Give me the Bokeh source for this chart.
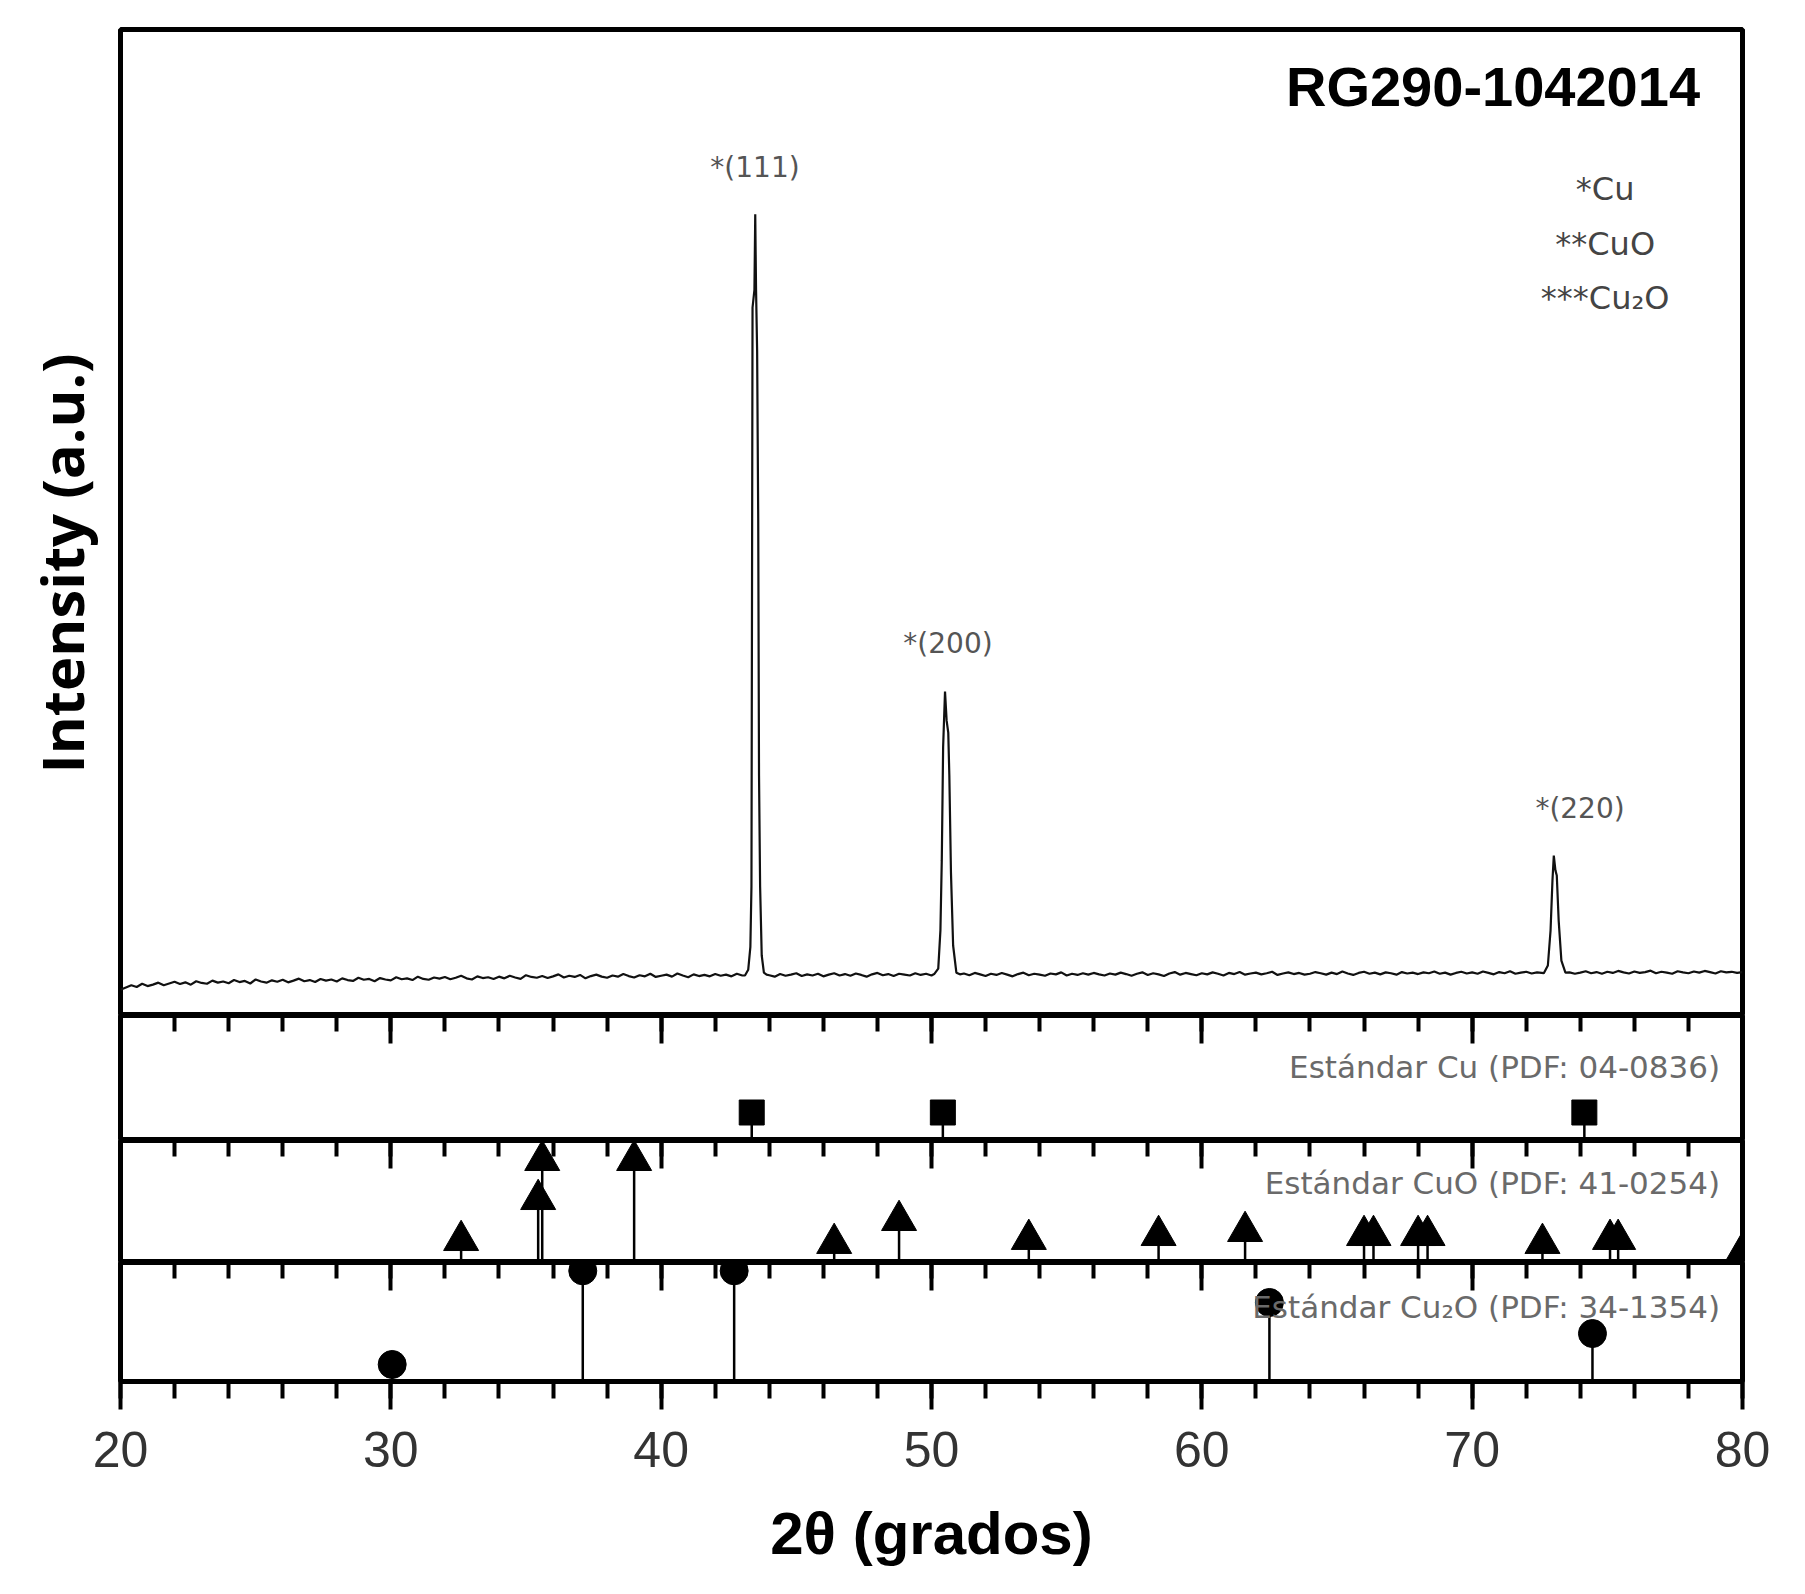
import numpy as np
from bokeh.plotting import figure
from bokeh.models import Range1d, Label, SingleIntervalTicker, LinearAxis, Title
from bokeh.layouts import column
from bokeh.embed import file_html
from bokeh.resources import INLINE

# ---------------- data ----------------
scan_start = 20.0
scan_step = 0.2
baseline_counts = [
    150, 158, 166, 160, 171, 163, 168, 175, 166, 172,
    178, 170, 176, 168, 180, 174, 171, 182, 175, 179,
    173, 184, 177, 181, 172, 186, 179, 175, 183, 178,
    185, 176, 182, 189, 180, 184, 177, 188, 182, 186,
    179, 190, 184, 181, 192, 185, 188, 180, 191, 186,
    183, 194, 187, 190, 184, 196, 188, 185, 193, 189,
    195, 187, 192, 199, 190, 186, 197, 191, 194, 188,
    196, 190, 199, 193, 188, 201, 195, 192, 198, 191,
    197, 204, 193, 199, 195, 202, 190, 198, 203, 196,
    192, 200, 196, 205, 198, 193, 201, 197, 206, 195,
    199, 203, 196, 207, 200, 194, 204, 198, 202, 197,
    205, 199, 203, 197, 206, 200, 204, 198, 202, 200,
    201, 196, 205, 199, 203, 208, 198, 204, 200, 206,
    197, 203, 208, 200, 205, 199, 207, 202, 196, 204,
    209, 201, 205, 198, 206, 203, 200, 208, 202, 206,
    200, 204, 210, 205, 199, 203, 207, 201, 209, 204,
    198, 206, 202, 209, 203, 197, 205, 210, 201, 206,
    203, 199, 207, 204, 211, 200, 206, 202, 208, 203,
    209, 204, 200, 207, 203, 210, 205, 199, 206, 211,
    202, 208, 204, 198, 207, 212, 203, 209, 205, 201,
    208, 204, 211, 206, 200, 209, 205, 212, 203, 207,
    210, 204, 208, 213, 202, 207, 211, 205, 209, 203,
    206, 212, 208, 203, 210, 205, 214, 207, 202, 209,
    213, 206, 210, 204, 211, 208, 203, 212, 207, 210,
    205, 211, 208, 214, 206, 210, 203, 209, 213, 207,
    211, 206, 214, 209, 204, 212, 208, 215, 206, 210,
    213, 207, 211, 205, 212, 209, 214, 208, 211, 206,
    210, 215, 208, 212, 206, 213, 209, 216, 211, 207,
    214, 209, 212, 217, 208, 213, 210, 206, 215, 211,
    208, 214, 210, 216, 212, 207, 215, 211, 213, 209,
    212,
]
peak111_2theta = [43.10, 43.22, 43.30, 43.34, 43.36, 43.38, 43.45, 43.48, 43.51, 43.55, 43.59, 43.62, 43.66, 43.72, 43.80, 43.90]
peak111_counts = [200, 220, 300, 512, 1512, 2538, 2600, 2864, 2600, 2384, 1800, 900, 512, 270, 210, 203]
peak200_2theta = [50.10, 50.25, 50.33, 50.38, 50.43, 50.50, 50.56, 50.62, 50.66, 50.72, 50.80, 50.92, 51.05]
peak200_counts = [205, 224, 358, 602, 1000, 1194, 1092, 1050, 900, 560, 305, 210, 204]
peak220_2theta = [72.65, 72.80, 72.90, 72.97, 73.02, 73.08, 73.13, 73.20, 73.30, 73.45]
peak220_counts = [208, 235, 358, 532, 620, 568, 550, 392, 252, 210]
peak_windows = [(43.05, 43.95), (50.05, 51.10), (72.60, 73.50)]

peak_labels = ["*(111)", "*(200)", "*(220)"]
peak_label_2theta = [43.47, 50.61, 73.99]
peak_label_counts = [3028, 1362, 785]

phase_legend = ["*Cu", "**CuO", "***Cu\u2082O"]
phase_legend_counts = [2954, 2762, 2573]

sample_name = "RG290-1042014"
y_title = "Intensity (a.u.)"
x_title = "2\u03b8 (grados)"

cu_2theta = [43.35, 50.42, 74.15]
cu_height = [22.4, 22.4, 22.4]
cuo_2theta = [32.6, 35.45, 35.6, 39.0, 46.4, 48.8, 53.6, 58.4, 61.6, 66.0, 66.35, 68.0, 68.35, 72.6, 75.1, 75.4, 79.95]
cuo_height = [18.1, 51.7, 83.7, 83.7, 15.7, 34.5, 19.0, 22.2, 25.5, 22.2, 22.2, 22.2, 22.2, 15.7, 19.0, 19.0, 6.7]
cu2o_2theta = [30.05, 37.1, 42.7, 62.5, 74.45]
cu2o_height = [14.3, 93.0, 93.0, 66.4, 40.3]

standard_labels = ["Est\u00e1ndar Cu (PDF: 04-0836)", "Est\u00e1ndar CuO (PDF: 41-0254)", "Est\u00e1ndar Cu\u2082O (PDF: 34-1354)"]
standard_label_height = [59.2, 64.8, 62.2]

x_ticks_major = 10
x_minor_per_major = 5

# ------------- build scan -------------
pts = []
for i, c in enumerate(baseline_counts):
    xv = scan_start + i * scan_step
    if any(a <= xv <= b for a, b in peak_windows):
        continue
    pts.append((xv, c))
for xs, ys in [(peak111_2theta, peak111_counts), (peak200_2theta, peak200_counts), (peak220_2theta, peak220_counts)]:
    pts.extend(zip(xs, ys))
pts.sort()
scan_x = [p[0] for p in pts]
scan_y = [p[1] for p in pts]

# ------------- layout -------------
W = 1789
LEFT = 120
RIGHT = 47


def make_fig(height, y0, y1, top=0, bottom=0):
    p = figure(width=W, height=height, x_range=Range1d(20, 80), y_range=Range1d(y0, y1),
               output_backend="svg", toolbar_location=None,
               x_axis_location=None, y_axis_location=None,
               min_border_left=LEFT, min_border_right=RIGHT,
               min_border_top=top, min_border_bottom=bottom)
    p.outline_line_color = "black"
    p.outline_line_width = 5
    p.outline_line_alpha = 1.0
    p.grid.visible = False
    p.background_fill_color = "white"
    p.border_fill_color = "white"
    return p


def add_top_ticks(p):
    ax = LinearAxis(ticker=SingleIntervalTicker(interval=x_ticks_major, num_minor_ticks=x_minor_per_major))
    ax.major_tick_in = 28
    ax.major_tick_out = 0
    ax.minor_tick_in = 16
    ax.minor_tick_out = 0
    ax.major_tick_line_width = 4
    ax.minor_tick_line_width = 4
    ax.major_tick_line_color = "black"
    ax.minor_tick_line_color = "black"
    ax.axis_line_color = None
    ax.major_label_text_color = None
    ax.major_label_text_font_size = "1px"
    ax.major_label_standoff = 0
    p.add_layout(ax, "above")


LABEL_GREY = "#555555"
STD_GREY = "#6a6a6a"

# main panel
pa = make_fig(1015, 60, 3511, top=29)
pa.line(scan_x, scan_y, line_width=2.2, color="#111111")
for t, xv, yv in zip(peak_labels, peak_label_2theta, peak_label_counts):
    pa.add_layout(Label(x=xv, y=yv, text=t, text_align="center", text_baseline="middle",
                        text_font="DejaVu Sans", text_font_size="28px", text_color=LABEL_GREY))
for t, yv in zip(phase_legend, phase_legend_counts):
    pa.add_layout(Label(x=74.92, y=yv, text=t, text_align="center", text_baseline="middle",
                        text_font="DejaVu Sans", text_font_size="32px", text_color="#444444"))
pa.add_layout(Label(x=78.43, y=3311, text=sample_name, text_align="right", text_baseline="middle",
                    text_font="Liberation Sans", text_font_style="bold", text_font_size="56px",
                    text_color="black"))
pa.add_layout(Title(text=y_title, align="left", offset=242, vertical_align="middle", standoff=37,
                    text_font="Open Sans", text_font_style="bold", text_font_size="58px",
                    text_color="black"), "left")

# Cu standard
pb = make_fig(125, 0, 100)
add_top_ticks(pb)
pb.segment(cu_2theta, [0] * len(cu_2theta), cu_2theta, cu_height, line_width=2.5, color="black")
pb.scatter(cu_2theta, cu_height, marker="square", size=25, color="black")
pb.add_layout(Label(x=79.17, y=standard_label_height[0], text=standard_labels[0], text_align="right",
                    text_baseline="middle", text_font="DejaVu Sans", text_font_size="31px",
                    text_color=STD_GREY))

# CuO standard
pc = make_fig(122, 0, 100)
add_top_ticks(pc)
pc.segment(cuo_2theta, [0] * len(cuo_2theta), cuo_2theta, cuo_height, line_width=2.5, color="black")
pc.scatter(cuo_2theta, cuo_height, marker="triangle", size=35, color="black")
pc.add_layout(Label(x=79.17, y=standard_label_height[1], text=standard_labels[1], text_align="right",
                    text_baseline="middle", text_font="DejaVu Sans", text_font_size="31px",
                    text_color=STD_GREY))

# Cu2O standard
pd_ = make_fig(324, 0, 100, bottom=205)
add_top_ticks(pd_)
pd_.segment(cu2o_2theta, [0] * len(cu2o_2theta), cu2o_2theta, cu2o_height, line_width=2.5, color="black")
pd_.scatter(cu2o_2theta, cu2o_height, marker="circle", size=28, color="black")
pd_.add_layout(Label(x=79.17, y=standard_label_height[2], text=standard_labels[2], text_align="right",
                     text_baseline="middle", text_font="DejaVu Sans", text_font_size="31px",
                     text_color=STD_GREY))
bx = LinearAxis(ticker=SingleIntervalTicker(interval=x_ticks_major, num_minor_ticks=x_minor_per_major),
                axis_label=x_title)
bx.major_tick_out = 28
bx.major_tick_in = 0
bx.minor_tick_out = 17
bx.minor_tick_in = 0
bx.major_tick_line_width = 4
bx.minor_tick_line_width = 4
bx.axis_line_width = 5
bx.axis_line_color = "black"
bx.major_label_text_font = "Liberation Sans"
bx.major_label_text_font_size = "50px"
bx.major_label_text_color = "#333333"
bx.major_label_standoff = 22
bx.axis_label_text_font = "Liberation Sans"
bx.axis_label_text_font_style = "bold"
bx.axis_label_text_font_size = "60px"
bx.axis_label_text_color = "black"
bx.axis_label_standoff = 30
pd_.add_layout(bx, "below")

layout = column(pa, pb, pc, pd_, spacing=0)
open("out.html", "w").write(file_html(layout, INLINE))
